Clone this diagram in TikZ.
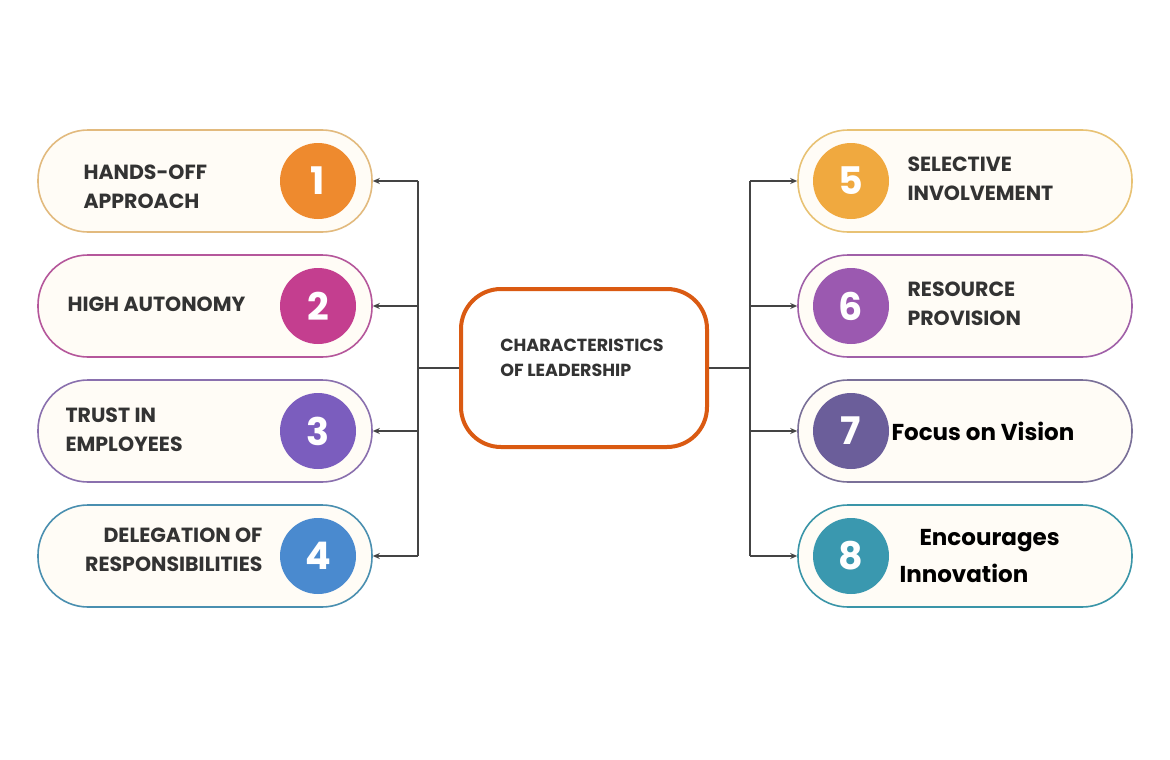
\documentclass[tikz,border=0pt]{standalone}
\usepackage{fontspec}
\setmainfont{Poppins}
\usetikzlibrary{arrows.meta}
\definecolor{boxfill}{HTML}{FFFCF6}
\definecolor{linec}{HTML}{444444}
\definecolor{centc}{HTML}{DA5A12}
\tikzset{
 pill/.style={draw=#1, line width=1.6pt, fill=boxfill, rounded corners=50pt, minimum width=334pt, minimum height=102pt},
 num/.style={circle, fill=#1, minimum size=76pt, text=white, font=\fontsize{38}{38}\selectfont\bfseries},
 lab/.style={font=\fontsize{20.5}{29}\selectfont\bfseries, text=black!80, align=left, anchor=west},
 conn/.style={draw=linec, line width=1.2pt},
 arr/.style={conn, -{Stealth[length=7pt,width=6pt]}},
}
\begin{document}
\begin{tikzpicture}[x=1pt,y=-1pt]
\useasboundingbox (0,0) rectangle (1170,760);
\fill[white] (0,0) rectangle (1170,760);
% center
\node[draw=centc, line width=4pt, fill=white, rounded corners=40pt, minimum width=246pt, minimum height=158pt] (c) at (584,368) {};
\node[font=\fontsize{17.5}{25}\selectfont\bfseries, text=black!80, align=left] (ct) at (582,358) {CHARACTERISTICS\\OF LEADERSHIP};
% left
\foreach \i/\y/\bc/\cc in {1/181/E2BA7E/EE8A2E, 2/306/B5579B/C43E8F, 3/431/8A70AE/7B5DBE, 4/556/4A8FB0/4A8ACF}{
  \definecolor{bc\i}{HTML}{\bc}\definecolor{cc\i}{HTML}{\cc}
  \node[pill=bc\i] (L\i) at (205,\y) {};
  \node[num=cc\i] (nL\i) at (318,\y) {\i};
}
\foreach \i/\y/\bc/\cc in {5/181/E8C274/F0A93F, 6/306/A060A8/9B59B0, 7/431/7A7098/6B5E9A, 8/556/3A95A8/3A98AF}{
  \definecolor{bc\i}{HTML}{\bc}\definecolor{cc\i}{HTML}{\cc}
  \node[pill=bc\i] (R\i) at (965,\y) {};
  \node[num=cc\i] (nR\i) at (851,\y) {\i};
}
\node[lab] (t1) at (80,187) {HANDS-OFF\\APPROACH};
\node[lab] (t2) at (64,304) {HIGH AUTONOMY};
\node[lab] (t3) at (62,430) {TRUST IN\\EMPLOYEES};
\node[lab, align=right, anchor=east] (t4) at (266,550) {DELEGATION OF\\RESPONSIBILITIES};
\node[lab] (t5) at (904,179) {SELECTIVE\\INVOLVEMENT};
\node[lab] (t6) at (904,304) {RESOURCE\\PROVISION};
\node[lab, font=\fontsize{23}{28}\selectfont\bfseries, text=black] (t7) at (888,431) {Focus on Vision};
\node[lab, font=\fontsize{23}{37}\selectfont\bfseries, text=black, align=left] (t8) at (896,556) {\hspace*{20pt}Encourages\\Innovation};
% connectors
\coordinate (jl) at (418,368);
\coordinate (jr) at (750,368);
\draw[conn] (c.west) -- (jl);
\draw[conn] (c.east) -- (jr);
\draw[conn] (jl |- L1.east) -- (jl |- L4.east);
\draw[conn] (jr |- R5.west) -- (jr |- R8.west);
\foreach \i in {1,2,3,4}{ \draw[arr] (jl |- L\i.east) -- (L\i.east); }
\foreach \i in {5,6,7,8}{ \draw[arr] (jr |- R\i.west) -- (R\i.west); }
\end{tikzpicture}
\end{document}
